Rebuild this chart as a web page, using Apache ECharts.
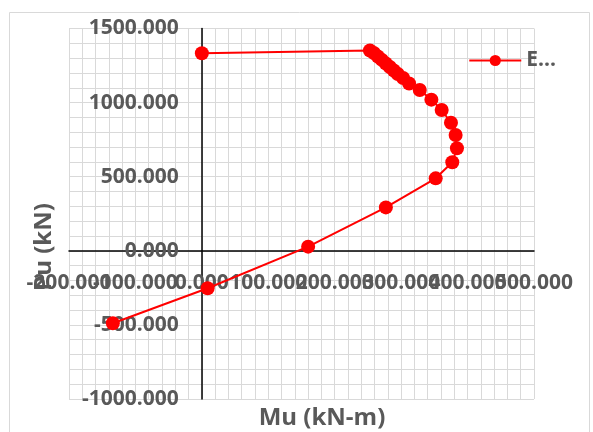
<!DOCTYPE html>
<html>
<head>
<meta charset="utf-8">
<script src="https://cdn.jsdelivr.net/npm/echarts@6/dist/echarts.min.js"></script>
<style>
  html, body { margin: 0; padding: 0; background: #fff; }
  #chart { width: 593px; height: 432px; }
</style>
</head>
<body>
<div id="chart"></div>
<script>
// Interaction curve: moment Mu (kN-m) vs axial load Pu (kN)
const seriesName = 'E...';
const muValues = [-134, 8.7, 160, 277, 352, 377, 384, 382, 375, 361, 345.5, 328, 312, 303, 295, 289, 283, 277, 271, 265, 259, 253, 0];
const puValues = [-489, -253, 28, 293, 489, 597, 692, 781, 864, 950, 1020, 1085, 1129, 1166, 1193, 1217, 1240, 1264, 1288, 1311, 1335, 1352, 1333];
const xTitle = 'Mu (kN-m)';
const yTitle = 'Pu (kN)';

const points = muValues.map((m, i) => [m, puValues[i]]);

const labelColor = '#595959';
const gridColor = '#D9D9D9';
const font = '"Open Sans", "Liberation Sans", sans-serif';

// plot rectangle
const G = { left: 69, top: 28.5, right: 59, bottom: 33 };
const plotW = 593 - G.left - G.right;
const plotH = 432 - G.top - G.bottom;
const xMin = -200, xMax = 500, yMin = -1000, yMax = 1500;
// axes sit on the zero lines, so shift them in from the plot edges
const xAxisShift = -plotH * (0 - yMin) / (yMax - yMin);
const yAxisShift = -plotW * (0 - xMin) / (xMax - xMin);

const fmt = v => v.toFixed(3);
const tickLabel = {
  color: labelColor, fontFamily: font, fontWeight: 'bold', fontSize: 21,
  hideOverlap: false
};

const chart = echarts.init(document.getElementById('chart'));
chart.setOption({
  animation: false,
  backgroundColor: '#ffffff',
  grid: Object.assign({ containLabel: false, outerBoundsMode: 'none' }, G),
  legend: {
    right: 32, top: 45,
    itemWidth: 52, itemHeight: 14, itemGap: 4,
    textStyle: { color: labelColor, fontFamily: font, fontWeight: 'bold', fontSize: 21 },
    data: [seriesName]
  },
  xAxis: [{
    // main horizontal axis: grid, axis line and inner tick labels
    type: 'value', position: 'bottom', min: xMin, max: xMax, interval: 100,
    offset: xAxisShift,
    axisLine: { onZero: false, lineStyle: { color: '#000', width: 1.5 } },
    axisTick: { show: false },
    axisLabel: Object.assign({ margin: 22, showMinLabel: false, showMaxLabel: false, formatter: fmt }, tickLabel),
    splitLine: { show: true, lineStyle: { color: gridColor, width: 1 } },
    minorTick: { show: false, splitNumber: 5 },
    minorSplitLine: { show: true, lineStyle: { color: gridColor, width: 1 } }
  }, {
    // end labels of the horizontal axis (they overlap their neighbours)
    type: 'value', position: 'bottom', min: xMin, max: xMax, interval: 100,
    offset: xAxisShift,
    axisLine: { show: false, onZero: false },
    axisTick: { show: false },
    axisLabel: Object.assign({
      margin: 22, showMinLabel: true, showMaxLabel: true,
      formatter: v => (v === xMin || v === xMax) ? fmt(v) : ''
    }, tickLabel),
    splitLine: { show: false }
  }],
  yAxis: [{
    type: 'value', min: yMin, max: yMax, interval: 500,
    offset: yAxisShift,
    axisLine: { onZero: false, lineStyle: { color: '#000', width: 1.5 } },
    axisTick: { show: false },
    axisLabel: Object.assign({ margin: 23, showMinLabel: true, showMaxLabel: true, formatter: fmt }, tickLabel),
    splitLine: { show: true, lineStyle: { color: gridColor, width: 1 } },
    minorTick: { show: false, splitNumber: 5 },
    minorSplitLine: { show: true, lineStyle: { color: gridColor, width: 1 } }
  }],
  series: [{
    name: seriesName,
    type: 'line',
    xAxisIndex: 0,
    data: points,
    symbol: 'circle',
    symbolSize: 14,
    lineStyle: { color: '#FF0000', width: 2 },
    itemStyle: { color: '#FF0000' },
    z: 5
  }],
  graphic: [
    {
      type: 'rect', silent: true, z: -1,
      shape: { x: 9.5, y: 12.5, width: 580, height: 440 },
      style: { fill: 'none', stroke: '#D9D9D9', lineWidth: 1 }
    },
    {
      type: 'text', x: 322, y: 418, z: -1,
      style: {
        text: xTitle, fill: labelColor, fontFamily: font, fontWeight: 'bold', fontSize: 24,
        align: 'center', verticalAlign: 'middle'
      }
    },
    {
      type: 'text', x: 44, y: 247, rotation: Math.PI / 2, z: -1,
      style: {
        text: yTitle, fill: labelColor, fontFamily: font, fontWeight: 'bold', fontSize: 24,
        align: 'center', verticalAlign: 'middle'
      }
    }
  ]
});
</script>
</body>
</html>
